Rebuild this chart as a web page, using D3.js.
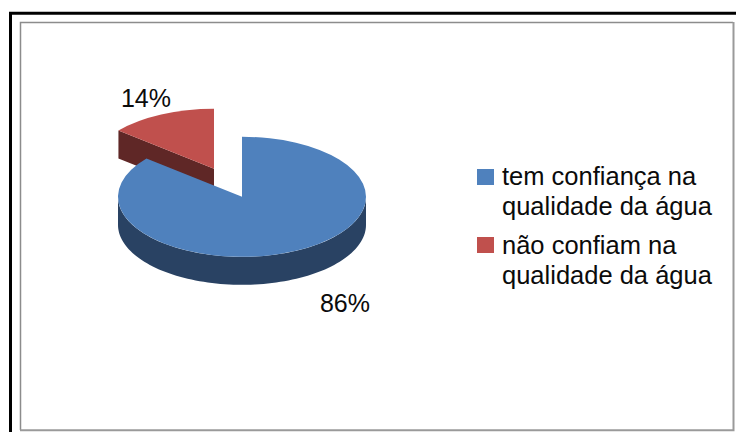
<!DOCTYPE html>
<html>
<head>
<meta charset="utf-8">
<script src="https://cdn.jsdelivr.net/npm/d3@7"></script>
<style>
  html, body { margin: 0; padding: 0; background: #fff; }
  svg { display: block; }
  text { font-family: "Liberation Sans", Arial, sans-serif; fill: #0b0b0b; }
</style>
</head>
<body>
<svg id="chart" width="736" height="432"></svg>
<script>
// Survey answers on trust in water quality
const categories = ["tem confiança na qualidade da água", "não confiam na qualidade da água"];
const legendLines = [["tem confiança na", "qualidade da água"], ["não confiam na", "qualidade da água"]];
const shares = [86, 14];
const shareLabels = ["86%", "14%"];
const topColors = ["#4f81bd", "#c0504d"];
const wallColors = ["#294263", "#5f2726"];

const svg = d3.select("#chart");

// Page frames
svg.append("path").attr("d", "M10.5 432V13.3H736").attr("fill", "none").attr("stroke", "#000").attr("stroke-width", 3);
svg.append("path").attr("d", "M20.5 430V22.5H733").attr("fill", "none").attr("stroke", "#8c8c8c").attr("stroke-width", 1.5);
svg.append("path").attr("d", "M733.5 22V430.2H20").attr("fill", "none").attr("stroke", "#9a9a9a").attr("stroke-width", 2);

// Tilted pie geometry
const rx = 124, ry = 60, depth = 28;
const pie = d3.pie().sort(null).value(d => d);
const slices = pie(shares);
const centers = [{ x: 242, y: 196.8 }, { x: 214, y: 168.8 }];
const arcGen = d3.arc().innerRadius(0).outerRadius(rx);

const onRim = (c, a) => [c.x + rx * Math.sin(a), c.y - ry * Math.cos(a)];

// Cut face of the detached slice, behind the large slice
const red = slices[1];
const redTip = onRim(centers[1], red.startAngle);
const redCenter = [centers[1].x, centers[1].y];
svg.append("path")
  .attr("d", d3.line()([redTip, redCenter, [redCenter[0], redCenter[1] + depth], [redTip[0], redTip[1] + depth]]) + "Z")
  .attr("fill", wallColors[1]);

// Outer wall of the large slice: the front half of its rim
const wallAngles = d3.range(Math.PI / 2, Math.PI * 1.5 + 0.001, Math.PI / 90);
const wall = d3.area()
  .x(a => onRim(centers[0], a)[0])
  .y0(a => onRim(centers[0], a)[1])
  .y1(a => onRim(centers[0], a)[1] + depth);
svg.append("path").attr("d", wall(wallAngles)).attr("fill", wallColors[0]);

// Slice tops: circular arcs squashed into ellipses
slices.forEach((s, i) => {
  svg.append("path")
    .attr("d", arcGen(s))
    .attr("transform", `translate(${centers[i].x},${centers[i].y}) scale(1,${ry / rx})`)
    .attr("fill", topColors[i]);
});

// Value labels
const labelPos = [[345, 312], [146, 107]];
shareLabels.forEach((t, i) => {
  svg.append("text").attr("x", labelPos[i][0]).attr("y", labelPos[i][1])
    .attr("text-anchor", "middle").attr("font-size", 25).text(t);
});

// Legend
const swatchTop = [169, 237];
const legendBaseline = [185, 253.5];
categories.forEach((c, i) => {
  svg.append("rect").attr("x", 477).attr("y", swatchTop[i]).attr("width", 17).attr("height", 16).attr("fill", topColors[i]);
  legendLines[i].forEach((line, j) => {
    svg.append("text").attr("x", 502).attr("y", legendBaseline[i] + j * 30)
      .attr("font-size", 25.5).text(line);
  });
});
</script>
</body>
</html>
